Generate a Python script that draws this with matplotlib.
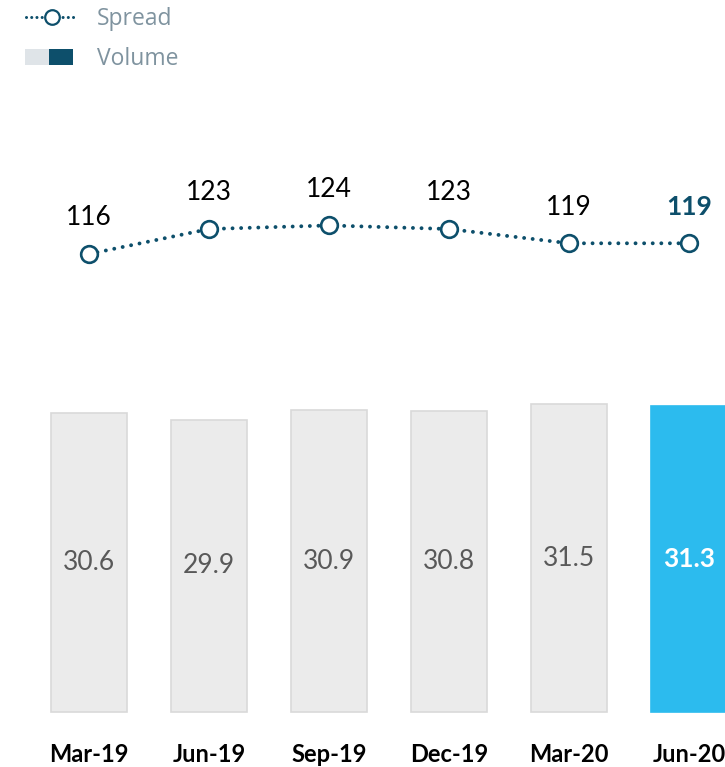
import matplotlib
matplotlib.use("Agg")
import matplotlib.pyplot as plt
from matplotlib.patches import Rectangle
from matplotlib.lines import Line2D

categories = ["Mar-19", "Jun-19", "Sep-19", "Dec-19", "Mar-20", "Jun-20"]
volume = [30.6, 29.9, 30.9, 30.8, 31.5, 31.3]
spread = [116, 123, 124, 123, 119, 119]

DARK = "#0d4f6b"
HIGHLIGHT = "#2cbbee"
BAR_FILL = "#ebebeb"
BAR_EDGE = "#d9d9d9"
LEGEND_TXT = "#7f939f"

W, H = 725, 767
fig = plt.figure(figsize=(W / 100, H / 100), dpi=100)
ax = fig.add_axes([0, 0, 1, 1])
ax.set_axis_off()

x = list(range(len(categories)))
ax.set_xlim(-89 / 120, (W - 89) / 120)
ppu_bar = 9.77
base = H - 712
ax.set_ylim(-base / ppu_bar, (H - base) / ppu_bar)

colors = [BAR_FILL] * (len(x) - 1) + [HIGHLIGHT]
edges = [BAR_EDGE] * (len(x) - 1) + [HIGHLIGHT]
ax.bar(x, volume, width=0.633, color=colors, edgecolor=edges, linewidth=1.2)

for i, v in enumerate(volume):
    last = i == len(x) - 1
    ax.text(i, v / 2, f"{v:.1f}", ha="center", va="center",
            fontsize=19, family="Lato",
            color="white" if last else "#595959",
            fontweight="bold" if last else "normal")
    ax.text(i, -42 / ppu_bar, categories[i], ha="center", va="center",
            fontsize=17, family="Lato", fontweight="bold", color="black")

ax2 = ax.twinx()
ax2.set_axis_off()
ax2.set_position([0, 0, 1, 1])
ppu_line = 3.57
p0 = H - 254
ax2.set_ylim(116 - p0 / ppu_line, 116 + (H - p0) / ppu_line)
ax2.plot(x, spread, color=DARK, linestyle=(0, (0.01, 2.2)), linewidth=2.8,
         dash_capstyle="round", zorder=2)
ax2.plot(x, spread, linestyle="none",
         marker="o", markersize=12, markerfacecolor="white",
         markeredgecolor=DARK, markeredgewidth=1.9, zorder=3)
for i, v in enumerate(spread):
    last = i == len(x) - 1
    ax2.annotate(f"{v}", (i, v), xytext=(0, 26), textcoords="offset points",
                 ha="center", va="center", fontsize=19, family="Lato",
                 color=DARK if last else "black",
                 fontweight="bold" if last else "normal")

# Legend (drawn in figure pixel coordinates)
def fx(px):
    return px / W

def fy(py):
    return 1 - py / H

fig.add_artist(Line2D([fx(26), fx(77)], [fy(17), fy(17)], transform=fig.transFigure,
                      color=DARK, linestyle=(0, (0.01, 1.7)), linewidth=2.2,
                      dash_capstyle="round"))
fig.add_artist(Line2D([fx(52)], [fy(17)], transform=fig.transFigure,
                      marker="o", markersize=10.5, markerfacecolor="white",
                      markeredgecolor=DARK, markeredgewidth=1.6))
fig.text(fx(97), fy(19), "Spread", ha="left", va="center", fontsize=16.5,
         family="Open Sans", color=LEGEND_TXT)
fig.add_artist(Rectangle((fx(25), fy(65)), fx(24), 16 / H, transform=fig.transFigure,
                         facecolor="#dfe4e8", edgecolor="none"))
fig.add_artist(Rectangle((fx(49), fy(65)), fx(24), 16 / H, transform=fig.transFigure,
                         facecolor=DARK, edgecolor="none"))
fig.text(fx(97), fy(59), "Volume", ha="left", va="center", fontsize=16.5,
         family="Open Sans", color=LEGEND_TXT)

fig.savefig("out.png", dpi=100)
